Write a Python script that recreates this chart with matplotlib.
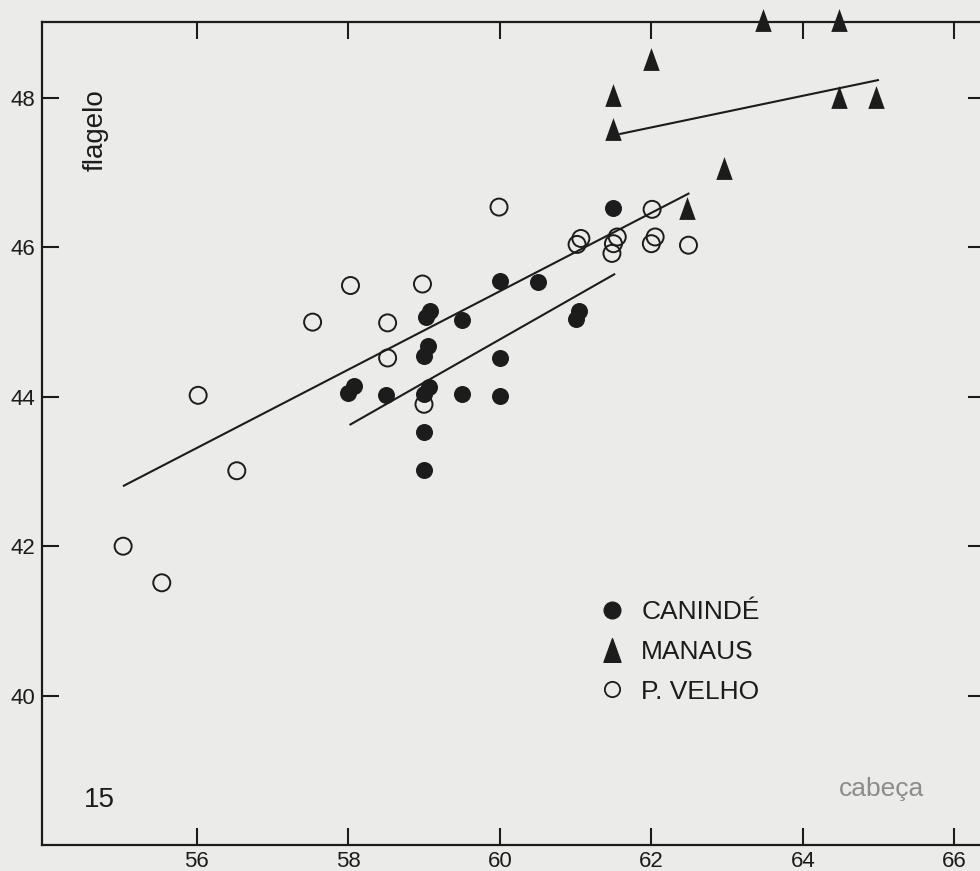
import matplotlib
matplotlib.use("Agg")
import matplotlib.pyplot as plt
from matplotlib.lines import Line2D
from matplotlib.path import Path

# ------------------------------------------------------------
# Data
# ------------------------------------------------------------

# CANINDÉ (filled circles)
caninde_x = [58.0, 58.08, 58.5, 59.03, 59.08, 59.0, 59.05, 59.0, 59.07, 59.0,
             59.0, 59.5, 59.5, 60.0, 60.0, 60.0, 60.5, 61.5, 61.05, 61.0]
caninde_y = [44.05, 44.14, 44.03, 45.07, 45.15, 44.55, 44.68, 44.04, 44.13, 43.53,
             43.02, 45.03, 44.04, 45.55, 44.52, 44.01, 45.54, 46.53, 45.15, 45.04]

# MANAUS (filled triangles)
manaus_x = [61.5, 61.5, 62.0, 63.47, 64.47, 64.48, 64.96, 62.47, 62.96]
manaus_y = [47.59, 48.04, 48.52, 49.04, 49.05, 48.02, 48.01, 46.53, 47.06]

# P. VELHO (open circles)
velho_x = [55.03, 55.54, 56.02, 56.53, 57.53, 58.03, 58.52, 58.98, 59.99, 58.52,
           59.0, 61.02, 61.07, 61.48, 61.5, 61.55, 62.01, 62.0, 62.05, 62.49]
velho_y = [42.0, 41.51, 44.02, 43.01, 45.0, 45.49, 44.99, 45.51, 46.54, 44.52,
           43.9, 46.04, 46.12, 45.92, 46.05, 46.14, 46.51, 46.05, 46.14, 46.03]

# Regression segments: (x0, x1), (y0, y1)
line_velho_x = [55.04, 62.49]
line_velho_y = [42.81, 46.72]
line_caninde_x = [58.03, 61.51]
line_caninde_y = [43.63, 45.64]
line_manaus_x = [61.59, 64.99]
line_manaus_y = [47.52, 48.24]

X_TICKS = [56, 58, 60, 62, 64, 66]
Y_TICKS = [40, 42, 44, 46, 48]

# ------------------------------------------------------------
# Styling
# ------------------------------------------------------------

PAPER = "#ebebea"
INK = "#1c1c1c"
SANS = ["Liberation Sans", "DejaVu Sans"]

# tall, narrow triangle like the printed symbol
tall_triangle = Path([(-0.36, -0.5), (0.36, -0.5), (0.0, 0.5), (-0.36, -0.5)],
                     [Path.MOVETO, Path.LINETO, Path.LINETO, Path.CLOSEPOLY])

fig = plt.figure(figsize=(9.8, 8.71), dpi=100, facecolor=PAPER)
ax = fig.add_axes([0.0429, 0.0299, 0.962, 0.945], facecolor=PAPER)

# regression lines
for lx, ly in [(line_velho_x, line_velho_y),
               (line_caninde_x, line_caninde_y),
               (line_manaus_x, line_manaus_y)]:
    ax.plot(lx, ly, color=INK, linewidth=1.5, zorder=2)

ax.scatter(velho_x, velho_y, s=150, facecolor="none", edgecolor=INK,
           linewidth=1.4, zorder=3)
ax.scatter(caninde_x, caninde_y, s=150, color=INK, linewidth=0, zorder=4)
ax.scatter(manaus_x, manaus_y, s=270, marker=tall_triangle, color=INK,
           linewidth=0, zorder=4, clip_on=False)

ax.set_xlim(53.96, 66.4)
ax.set_ylim(38.0, 49.02)

ax.set_xticks(X_TICKS)
ax.set_yticks(Y_TICKS)
ax.tick_params(axis="both", direction="in", length=12, width=1.5,
               color=INK, labelsize=16, labelcolor=INK)
ax.tick_params(axis="x", top=True, pad=4)
ax.tick_params(axis="y", right=True, pad=5)
for lab in ax.get_xticklabels() + ax.get_yticklabels():
    lab.set_family(SANS)

for side in ["left", "bottom", "top", "right"]:
    ax.spines[side].set_linewidth(1.6)
    ax.spines[side].set_color(INK)

ax.text(0.057, 0.868, "flagelo", transform=ax.transAxes, rotation=90,
        ha="center", va="center", fontsize=20, family=SANS, color=INK)
ax.text(0.061, 0.055, "15", transform=ax.transAxes, ha="center",
        va="center", fontsize=20, family=SANS, color=INK)
ax.text(0.89, 0.068, "cabeça", transform=ax.transAxes, ha="center",
        va="center", fontsize=19, family=SANS, color="#8c8c8c")

handles = [
    Line2D([], [], linestyle="none", marker="o", markersize=12,
           markerfacecolor=INK, markeredgecolor=INK),
    Line2D([], [], linestyle="none", marker=tall_triangle, markersize=17,
           markerfacecolor=INK, markeredgecolor=INK),
    Line2D([], [], linestyle="none", marker="o", markersize=11,
           markerfacecolor="none", markeredgecolor=INK, markeredgewidth=1.3),
]
legend = ax.legend(handles, ["CANINDÉ", "MANAUS", "P. VELHO"],
                   loc="upper left", bbox_to_anchor=(0.574, 0.320),
                   frameon=False, handlelength=0.8, handletextpad=0.7,
                   labelspacing=0.6, borderpad=0.2,
                   prop={"family": SANS, "size": 19})
for t in legend.get_texts():
    t.set_color(INK)

fig.savefig("out.png", dpi=100, facecolor=PAPER)
